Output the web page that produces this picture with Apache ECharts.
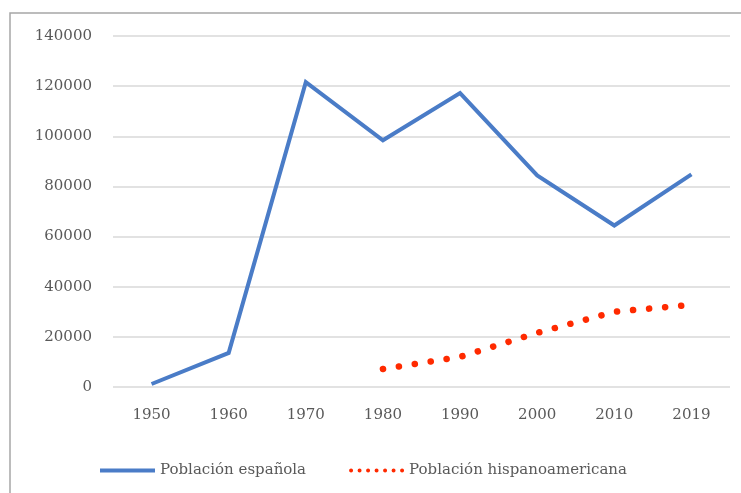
<!DOCTYPE html>
<html>
<head>
<meta charset="utf-8">
<script src="https://cdn.jsdelivr.net/npm/echarts@6/dist/echarts.min.js"></script>
<style>
  html, body { margin: 0; padding: 0; background: #fff; }
  #chart { width: 741px; height: 493px; }
</style>
</head>
<body>
<div id="chart"></div>
<script>
const years = ['1950', '1960', '1970', '1980', '1990', '2000', '2010', '2019']
const spanish = [1200, 13600, 121600, 98400, 117200, 84400, 64400, 84800]
const hispano = [null, null, null, 7200, 12000, 21600, 30000, 32800]

const textColor = '#595959'
const font = 'DejaVu Serif'

// legend icons: a solid bar and a row of dots
const solidIcon = 'path://M0,0 L55,0 L55,4 L0,4 Z'
let dots = ''
for (let i = 0; i < 7; i++) {
  const cx = 2 + i * 8.5
  dots += `M${cx - 2},2 a2,2 0 1,0 4,0 a2,2 0 1,0 -4,0 `
}
const dottedIcon = 'path://' + dots

const chart = echarts.init(document.getElementById('chart'))
chart.setOption({
  animation: false,
  textStyle: { fontFamily: font },
  graphic: [{
    type: 'rect',
    shape: { x: 10, y: 13, width: 760, height: 520 },
    style: { fill: 'none', stroke: '#a6a6a6', lineWidth: 1.5 },
    silent: true
  }],
  grid: { left: 113, right: 11, top: 36, bottom: 106 },
  legend: {
    left: 95,
    top: 458,
    itemWidth: 55,
    itemHeight: 4,
    itemGap: 43,
    textStyle: { color: textColor, fontFamily: font, fontSize: 15 },
    data: [
      { name: 'Población española', icon: solidIcon },
      { name: 'Población hispanoamericana', icon: dottedIcon }
    ]
  },
  xAxis: {
    type: 'category',
    data: years,
    boundaryGap: true,
    axisLine: { show: false },
    axisTick: { show: false },
    axisLabel: { color: textColor, fontFamily: font, fontSize: 15, margin: 21 }
  },
  yAxis: {
    type: 'value',
    min: 0,
    max: 140000,
    interval: 20000,
    axisLine: { show: false },
    axisTick: { show: false },
    splitLine: { lineStyle: { color: '#d9d9d9', width: 1.5 } },
    axisLabel: { color: textColor, fontFamily: font, fontSize: 15, margin: 21, formatter: v => String(v) }
  },
  series: [
    {
      name: 'Población española',
      type: 'line',
      data: spanish,
      symbol: 'none',
      lineStyle: { color: '#4a7cc7', width: 4, join: 'miter' },
      itemStyle: { color: '#4a7cc7' }
    },
    {
      name: 'Población hispanoamericana',
      type: 'line',
      data: hispano,
      symbol: 'none',
      lineStyle: { color: '#ff2a00', width: 6.5, type: [0.1, 16], cap: 'round' },
      itemStyle: { color: '#ff2a00' }
    }
  ]
})
</script>
</body>
</html>
